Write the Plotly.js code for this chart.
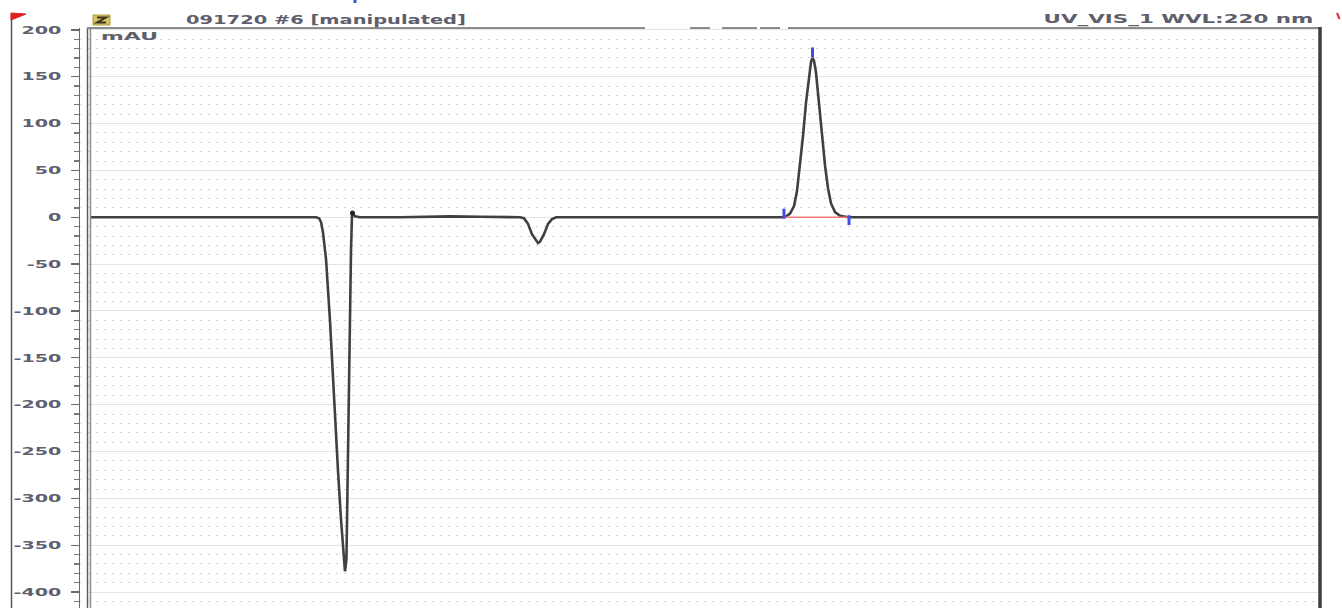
<!DOCTYPE html>
<html>
<head>
<meta charset="utf-8">
<script src="https://cdn.plot.ly/plotly-3.0.1.min.js"></script>
<style>
  html, body { margin: 0; padding: 0; background: #ffffff; }
  #chart { width: 1342px; height: 608px; }
</style>
</head>
<body>
<div id="chart"></div>
<script>
// ---- data (time in min, signal in mAU) ----
const times = [0, 1.707, 1.837, 1.862, 1.878, 1.894, 1.919, 1.951, 1.984, 2.016, 2.041, 2.057, 2.073,
  2.085, 2.098, 2.110, 2.122, 2.130, 2.134, 2.154, 2.195, 2.520, 2.927, 3.171, 3.496,
  3.528, 3.561, 3.593, 3.626, 3.642, 3.659, 3.691, 3.724, 3.756, 3.789, 4.146, 4.959, 5.610,
  5.650, 5.691, 5.724, 5.748, 5.772, 5.797, 5.821, 5.846, 5.862, 5.874, 5.886, 5.902, 5.927,
  5.951, 5.976, 6.000, 6.024, 6.057, 6.098, 6.163, 7.398, 9.984];
const signal = [0, 0, 0, -1, -5, -16, -45, -110, -195, -270, -323, -355, -378,
  -365, -238, -131, -35, 2.5, 4.6, 1, 0, 0, 1, 0.5, 0,
  -1, -7, -18, -25, -27.5, -26, -18, -7, -2, 0, 0, 0, 0,
  0, 4, 12, 28, 55, 87, 122, 152, 166, 170, 167, 155, 125,
  89, 55, 31, 15, 5.5, 1.5, 0, 0, 0];
const dotTimes = [2.134];
const dotValues = [4.6];
const peakMarkTimes = [5.642, 5.874, 6.171];
const peakMarkValues = [4, 176, -3];
const baselineTimes = [5.650, 6.163];
const baselineValues = [0, 0];
const tickVals = [-400, -350, -300, -250, -200, -150, -100, -50, 0, 50, 100, 150, 200];
const tickText = ['-400', '-350', '-300', '-250', '-200', '-150', '-100', '-50', '0', '50', '100', '150', '200'];
const titleLeft = '091720 #6 [manipulated]';
const titleRight = 'UV_VIS_1 WVL:220 nm';
const unitLabel = 'mAU';

// ---- layout helpers (pixel -> paper) ----
const W = 1342, H = 608, ML = 80, MR = 22, MT = 28, MB = 0;
const PW = W - ML - MR, PH = H - MT - MB;
const X = px => (px - ML) / PW;
const Y = py => (H - MB - py) / PH;

const traces = [
  { x: times, y: signal, type: 'scatter', mode: 'lines',
    line: { color: '#404040', width: 2.6 }, hoverinfo: 'skip' },
  { x: baselineTimes, y: baselineValues, type: 'scatter', mode: 'lines',
    line: { color: '#f07a7a', width: 1.6 }, hoverinfo: 'skip' },
  { x: dotTimes, y: dotValues, type: 'scatter', mode: 'markers',
    marker: { color: '#222', size: 5 }, hoverinfo: 'skip' },
  { x: peakMarkTimes, y: peakMarkValues, type: 'scatter', mode: 'markers',
    marker: { symbol: 'line-ns', size: 7, line: { color: '#3f4fe0', width: 3 } }, hoverinfo: 'skip' }
];

function seg(x0, x1, y0, y1, color, width) {
  return { type: 'line', xref: 'paper', yref: 'paper', x0: X(x0), x1: X(x1), y0: Y(y0), y1: Y(y1),
           line: { color: color, width: width }, layer: 'above' };
}

const shapes = [
  { type: 'rect', xref: 'paper', yref: 'paper', x0: X(81), x1: X(87), y0: 0, y1: 1,
    fillcolor: '#ffffff', line: { width: 0 }, layer: 'above' },
  seg(87.5, 87.5, 28, 608, '#5c5c5c', 1.5),
  seg(90.5, 90.5, 28, 608, '#8a8a8a', 1.5),
  seg(87, 645, 28, 28, '#8c8c8c', 2),
  seg(690, 710, 28, 28, '#8c8c8c', 2),
  seg(722, 757, 28, 28, '#8c8c8c', 2),
  seg(760, 780, 28, 28, '#8c8c8c', 2),
  seg(788, 1320, 28, 28, '#8c8c8c', 2),
  seg(1320, 1320, 27, 608, '#3f3f3f', 3.5),
  seg(11.5, 11.5, 14, 608, '#555555', 1.5),
  { type: 'path', xref: 'paper', yref: 'paper',
    path: `M ${X(11)},${Y(13)} L ${X(26)},${Y(14)} L ${X(11)},${Y(20)} Z`,
    fillcolor: '#e02020', line: { color: '#e02020', width: 1 }, layer: 'above' },
  seg(1337, 1339.5, 13, 19, '#e03030', 2),
  { type: 'rect', xref: 'paper', yref: 'paper', x0: X(93), x1: X(110), y0: Y(25), y1: Y(15),
    fillcolor: '#d8c063', line: { color: '#b09a40', width: 1 }, layer: 'above' },
  { type: 'path', xref: 'paper', yref: 'paper',
    path: `M ${X(97)},${Y(17.5)} L ${X(106)},${Y(17.5)} L ${X(97)},${Y(22.5)} L ${X(106)},${Y(22.5)}`,
    line: { color: '#3a3520', width: 2 }, layer: 'above' },
  seg(355, 355, 0, 3, '#3f4fe0', 3)
];

const annFont = { family: 'DejaVu Sans', size: 12.5, color: '#5e5e6c', weight: 'bold' };
const annotations = [
  { xref: 'paper', yref: 'paper', x: X(185), y: Y(20), xanchor: 'left', yanchor: 'middle',
    text: titleLeft, showarrow: false, font: annFont, borderpad: 0 },
  { xref: 'paper', yref: 'paper', x: X(1315), y: Y(19), xanchor: 'right', yanchor: 'middle',
    text: titleRight, showarrow: false, font: annFont, borderpad: 0 },
  { xref: 'paper', yref: 'paper', x: X(100), y: Y(37), xanchor: 'left', yanchor: 'middle',
    text: unitLabel, showarrow: false,
    font: { family: 'DejaVu Sans', size: 10, color: '#5e5e6c', weight: 'bold' }, borderpad: 0 }
];
// target widths (px) and which edge stays fixed, for the horizontally stretched text of the original
const annStretch = [ { w: 280, edge: 'left' }, { w: 270, edge: 'right' }, { w: 57, edge: 'left' } ];
const tickTargetWidth = 40; // width of the "200" label

const layout = {
  width: W, height: H,
  margin: { l: ML, r: MR, t: MT, b: MB, pad: 0 },
  paper_bgcolor: '#ffffff', plot_bgcolor: '#ffffff',
  showlegend: false,
  xaxis: { range: [-0.0813, 10.0], showgrid: false, zeroline: false, showticklabels: false,
           ticks: '', showline: false, fixedrange: true },
  yaxis: { range: [-417, 202], tickmode: 'array', tickvals: tickVals, ticktext: tickText,
           ticks: 'outside', ticklen: 8, tickwidth: 1.3, tickcolor: '#6a6a6a',
           showline: true, linecolor: '#6a6a6a', linewidth: 1.5,
           showgrid: true, gridcolor: '#e4e4e4', gridwidth: 1, zeroline: false,
           ticklabelstandoff: 7,
           tickfont: { family: 'DejaVu Sans', size: 10.5, color: '#5f5f72', weight: 'bold' },
           minor: { dtick: 10, ticks: 'outside', ticklen: 5, tickwidth: 1.2, tickcolor: '#7a7a7a',
                    showgrid: true, gridcolor: '#d0d0d0', gridwidth: 1, griddash: '2px,6px' },
           fixedrange: true },
  shapes: shapes,
  annotations: annotations
};

function stretchText(gd) {
  // y tick labels: scale horizontally about their right edge
  const labels = gd.querySelectorAll('.ytick text');
  let ref = null;
  labels.forEach(t => { if (t.textContent.trim() === '200') ref = t; });
  if (ref) {
    const k = tickTargetWidth / ref.getBBox().width;
    labels.forEach(t => {
      const bb = t.getBBox();
      const ax = bb.x + bb.width;
      const orig = t.getAttribute('transform') || '';
      t.setAttribute('transform', `${orig} translate(${ax},0) scale(${k},1) translate(${-ax},0)`);
    });
  }
  annStretch.forEach((s, i) => {
    const t = gd.querySelector(`.annotation[data-index="${i}"] .annotation-text`);
    if (!t) return;
    const bb = t.getBBox();
    const k = s.w / bb.width;
    const ax = s.edge === 'left' ? bb.x : bb.x + bb.width;
    const orig = t.getAttribute('transform') || '';
    t.setAttribute('transform', `${orig} translate(${ax},0) scale(${k},1) translate(${-ax},0)`);
  });
}

const gd = document.getElementById('chart');
Plotly.newPlot(gd, traces, layout, { staticPlot: true, displayModeBar: false, responsive: false })
  .then(() => stretchText(gd));
</script>
</body>
</html>
